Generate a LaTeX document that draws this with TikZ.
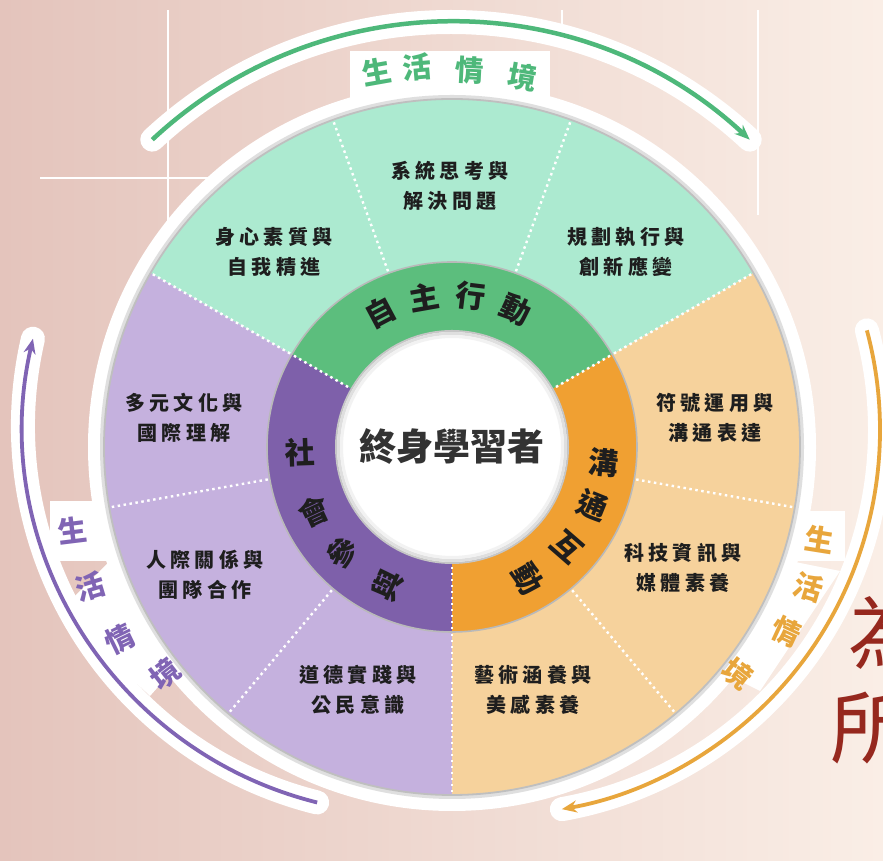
\documentclass[tikz,border=0pt]{standalone}
\usepackage{fontspec}
\setmainfont{Noto Sans CJK TC}
\usetikzlibrary{arrows.meta}
\definecolor{lg}{RGB}{172,234,208}
\definecolor{dg}{RGB}{92,190,125}
\definecolor{lp}{RGB}{197,177,222}
\definecolor{dp}{RGB}{126,96,170}
\definecolor{lo}{RGB}{246,210,156}
\definecolor{dor}{RGB}{240,160,50}
\definecolor{ag}{RGB}{78,184,122}
\definecolor{ap}{RGB}{128,100,180}
\definecolor{ao}{RGB}{232,166,60}
\definecolor{bgpink}{RGB}{228,196,188}
\definecolor{bgpeach}{RGB}{250,238,230}
\definecolor{redc}{RGB}{150,40,30}
\definecolor{txt}{RGB}{30,30,30}
\tikzset{
  dotline/.style={white, line width=2.4pt, dash pattern=on 2.5pt off 3.5pt},
  otxt/.style={align=center, text=txt, inner sep=0pt,
    font=\fontsize{20}{30}\selectfont\bfseries\addfontfeature{LetterSpace=22}},
  btxt/.style={text=txt, inner sep=0pt, font=\fontsize{30}{30}\selectfont\bfseries},
  atxt/.style={inner sep=0pt, font=\fontsize{29}{29}\selectfont\bfseries},
  halo/.style={white, line width=24pt, line cap=round},
  arcline/.style={line width=4.5pt, -{Stealth[length=15pt,width=12pt]}},
  bgline/.style={white, line width=2.5pt}
}
\begin{document}
\begin{tikzpicture}[x=1pt,y=1pt]
\useasboundingbox (0,0) rectangle (883,861);
\clip (0,0) rectangle (883,861);
% background
\shade[left color=bgpink, right color=bgpeach] (0,0) rectangle (883,861);
\draw[bgline] (168,851) -- (168,570);
\draw[bgline] (40,683) -- (215,683);
\draw[bgline] (758,851) -- (758,646);
\draw[bgline] (562,851) -- (562,815);
% centres
\coordinate (O) at (452,414);
\coordinate (gc) at (451,401);
\coordinate (pc) at (411,435);
\coordinate (oc) at (495,431);
\coordinate (gs) at ([shift={(133:438)}]gc);
\coordinate (ps) at ([shift={(256:388)}]pc);
\coordinate (os) at ([shift={(15:385)}]oc);
% white halos
\fill[white] (O) circle (364);
\draw[halo] (gs) arc[start angle=133, end angle=47, radius=438];
\draw[halo] (ps) arc[start angle=256, end angle=167, radius=388];
\draw[halo] (os) arc[start angle=15, end angle=-80, radius=385];
\fill[white] (350,760) rectangle (550,810);
\fill[white] (50,300) rectangle (110,360);
\fill[white] (60,250) -- (110,300) -- (190,210) -- (150,165) -- cycle;
\fill[white] (790,300) rectangle (845,350);
\fill[white] (840,290) -- (760,170) -- (700,200) -- (790,300) -- cycle;
% outer arcs
\draw[arcline, ag] (gs) arc[start angle=133, end angle=47, radius=438];
\draw[arcline, ap, line width=3.8pt] (ps) arc[start angle=256, end angle=167, radius=388];
\draw[arcline, ao, line width=3.8pt] (os) arc[start angle=15, end angle=-80, radius=385];
% disc shadow
\draw[gray!25, line width=6pt] (O) circle (349);
% outer sectors
\fill[lg] (O) -- ++(30:348) arc[start angle=30, end angle=150, radius=348] -- cycle;
\fill[lp] (O) -- ++(150:348) arc[start angle=150, end angle=270, radius=348] -- cycle;
\fill[lo] (O) -- ++(270:348) arc[start angle=270, end angle=390, radius=348] -- cycle;
\draw[gray!50, line width=1.8pt] (O) circle (348);
\foreach \a in {30,70,110,150,190,230,270,310,350}
  \draw[dotline] ([shift={(\a:187)}]O) -- ([shift={(\a:346)}]O);
% arc labels
\node[atxt, ag, rotate=10]  (g1) at (377,789) {生};
\node[atxt, ag, rotate=5]   (g2) at (417,794) {活};
\node[atxt, ag, rotate=-3]  (g3) at (470,791) {情};
\node[atxt, ag, rotate=-10] (g4) at (523,784) {境};
\node[atxt, ap, rotate=7]   (p1) at (73,331) {生};
\node[atxt, ap, rotate=17]  (p2) at (90,274) {活};
\node[atxt, ap, rotate=26]  (p3) at (120,222) {情};
\node[atxt, ap, rotate=38]  (p4) at (165,187) {境};
\node[atxt, ao, rotate=-9]  (o1) at (820,321) {生};
\node[atxt, ao, rotate=-17] (o2) at (809,274) {活};
\node[atxt, ao, rotate=-25] (o3) at (786,229) {情};
\node[atxt, ao, rotate=-38] (o4) at (738,187) {境};
% band
\fill[dg] (O) -- ++(30:185) arc[start angle=30, end angle=150, radius=185] -- cycle;
\fill[dp] (O) -- ++(150:185) arc[start angle=150, end angle=270, radius=185] -- cycle;
\fill[dor] (O) -- ++(270:185) arc[start angle=270, end angle=390, radius=185] -- cycle;
\draw[gray!55, line width=1.6pt] (O) circle (185);
\foreach \a in {30,150,270}
  \draw[dotline] ([shift={(\a:114)}]O) -- ([shift={(\a:184)}]O);
% inner circle
\fill[white] (O) circle (116);
\draw[gray!45, line width=2pt] (O) circle (116);
\draw[gray!25, line width=3pt] (O) circle (113.5);
\draw[gray!10, line width=3pt] (O) circle (110.5);
\node[text=black!80, font=\fontsize{37}{37}\selectfont\bfseries] (center) at (O) {終身學習者};
% band letters
\node[btxt, rotate=28]  (b1) at ([shift={(118:152)}]O) {自};
\node[btxt, rotate=10]  (b2) at ([shift={(100.5:152)}]O) {主};
\node[btxt, rotate=-7]  (b3) at ([shift={(83:152)}]O) {行};
\node[btxt, rotate=-25] (b4) at ([shift={(65:152)}]O) {動};
\node[btxt, rotate=2]   (b5) at ([shift={(182:152)}]O) {社};
\node[btxt, rotate=25]  (b6) at ([shift={(205:152)}]O) {會};
\node[btxt, rotate=44]  (b7) at ([shift={(224:152)}]O) {參};
\node[btxt, rotate=65]  (b8) at ([shift={(245:152)}]O) {與};
\node[btxt, rotate=-6]  (b9) at ([shift={(-6:152)}]O) {溝};
\node[btxt, rotate=-22] (b10) at ([shift={(-22.5:152)}]O) {通};
\node[btxt, rotate=-41] (b11) at ([shift={(-41:152)}]O) {互};
\node[btxt, rotate=-60] (b12) at ([shift={(-60:152)}]O) {動};
% outer texts
\node[otxt] (t1) at (274,609) {身心素質與\\自我精進};
\node[otxt] (t2) at (450,675) {系統思考與\\解決問題};
\node[otxt] (t3) at (626,609) {規劃執行與\\創新應變};
\node[otxt] (t4) at (715,443) {符號運用與\\溝通表達};
\node[otxt] (t5) at (683,293) {科技資訊與\\媒體素養};
\node[otxt] (t6) at (533,171) {藝術涵養與\\美感素養};
\node[otxt] (t7) at (358,171) {道德實踐與\\公民意識};
\node[otxt] (t8) at (184,443) {多元文化與\\國際理解};
\node[otxt] (t9) at (205,286) {人際關係與\\團隊合作};
% red partial characters
\node[anchor=west, inner sep=0pt, text=redc, font=\fontsize{80}{80}\selectfont] (r1) at (848,228) {為};
\node[anchor=west, inner sep=0pt, text=redc, font=\fontsize{80}{80}\selectfont] (r2) at (830,133) {所};
\end{tikzpicture}
\end{document}
